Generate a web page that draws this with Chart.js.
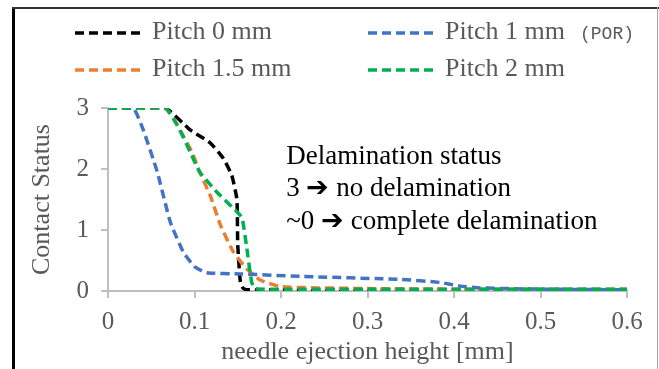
<!DOCTYPE html>
<html>
<head>
<meta charset="utf-8">
<script src="https://cdn.jsdelivr.net/npm/chart.js@4/dist/chart.umd.min.js"></script>
<style>
  html, body { margin: 0; padding: 0; background: #fff; }
  #wrap { width: 659px; height: 369px; position: relative; }
</style>
</head>
<body>
<div id="wrap"><canvas id="chart" width="659" height="369"></canvas></div>
<script>
var SERIF = '"Liberation Serif", "Times New Roman", serif';
var GRAY = "#595959";
var AXIS = "#bfbfbf";

// contact status vs needle ejection height, one pair of arrays per pitch
var seriesNames = ["Pitch 0 mm", "Pitch 1 mm", "Pitch 1.5 mm", "Pitch 2 mm"];
var seriesColors = ["#000000", "#4472c4", "#ed7d31", "#00b050"];

var pitch0X = [0, 0.066, 0.095, 0.118, 0.133, 0.143, 0.149, 0.150, 0.153, 0.156, 0.160, 0.2, 0.3, 0.4, 0.5, 0.6];
var pitch0Y = [3, 3, 2.64, 2.43, 2.18, 1.9, 1.5, 0.75, 0.15, 0.05, 0.02, 0.02, 0.02, 0.02, 0.02, 0.02];

var pitch1X = [0, 0.029, 0.040, 0.057, 0.072, 0.087, 0.100, 0.114, 0.153, 0.222, 0.338, 0.384, 0.407, 0.430, 0.5, 0.6];
var pitch1Y = [3, 3, 2.67, 1.95, 1.13, 0.64, 0.40, 0.30, 0.28, 0.24, 0.19, 0.14, 0.08, 0.05, 0.03, 0.02];

var pitch15X = [0, 0.066, 0.080, 0.097, 0.106, 0.118, 0.130, 0.145, 0.160, 0.176, 0.200, 0.3, 0.4, 0.5, 0.6];
var pitch15Y = [3, 3, 2.72, 2.28, 1.95, 1.57, 1.08, 0.64, 0.37, 0.18, 0.07, 0.04, 0.03, 0.03, 0.03];

var pitch2X = [0, 0.066, 0.080, 0.095, 0.106, 0.126, 0.149, 0.155, 0.160, 0.166, 0.170, 0.2, 0.3, 0.4, 0.5, 0.6];
var pitch2Y = [3, 3, 2.72, 2.28, 1.95, 1.62, 1.30, 1.2, 0.75, 0.15, 0.04, 0.03, 0.03, 0.03, 0.03, 0.03];

var xTicks = [0, 0.1, 0.2, 0.3, 0.4, 0.5, 0.6];
var yTicks = [0, 1, 2, 3];

var noteLines = ["Delamination status", "3 \u2794 no delamination", "~0 \u2794 complete delamination"];

function points(xs, ys) {
  return xs.map(function (x, i) { return { x: x, y: ys[i] }; });
}

var allX = [pitch0X, pitch1X, pitch15X, pitch2X];
var allY = [pitch0Y, pitch1Y, pitch15Y, pitch2Y];
var drawOrder = [3, 1, 2, 0]; // green on top, black underneath

var datasets = seriesNames.map(function (name, i) {
  return {
    label: name,
    data: points(allX[i], allY[i]),
    borderColor: seriesColors[i],
    backgroundColor: seriesColors[i],
    borderWidth: 3.5,
    borderDash: [9, 5],
    borderCapStyle: "butt",
    pointRadius: 0,
    tension: 0.15,
    fill: false,
    order: drawOrder[i],
  };
});

// legend in two rows, frame and annotation text
var extras = {
  id: "extras",
  afterDraw: function (chart) {
    var ctx = chart.ctx;
    var rows = [
      [0, 75, 33], [1, 368, 33],
      [2, 75, 70], [3, 368, 70],
    ];
    ctx.save();
    rows.forEach(function (r) {
      var ds = chart.data.datasets[r[0]];
      ctx.strokeStyle = ds.borderColor;
      ctx.lineWidth = ds.borderWidth;
      ctx.setLineDash(ds.borderDash);
      ctx.beginPath();
      ctx.moveTo(r[1], r[2]);
      ctx.lineTo(r[1] + 70, r[2]);
      ctx.stroke();
      ctx.setLineDash([]);
      ctx.fillStyle = GRAY;
      ctx.font = "26px " + SERIF;
      ctx.textBaseline = "middle";
      ctx.textAlign = "left";
      ctx.fillText(ds.label, r[1] + 77, r[2] - 1);
    });
    ctx.font = '18px "Liberation Mono", monospace';
    ctx.fillText("(POR)", 580, 34);

    // delamination note, anchored in data space
    var xs = chart.scales.x, ys = chart.scales.y;
    ctx.fillStyle = "#000";
    ctx.font = "27px " + SERIF;
    var nx = xs.getPixelForValue(0.206);
    var ny = [2.2, 1.68, 1.14];
    noteLines.forEach(function (t, i) {
      ctx.fillText(t, nx, ys.getPixelForValue(ny[i]));
    });

    // outer frame
    ctx.fillStyle = "#000";
    ctx.fillRect(12, 7, 3, 362);
    ctx.fillStyle = "#333";
    ctx.fillRect(12, 7, 647, 2);
    ctx.fillStyle = "#a6a6a6";
    ctx.fillRect(657, 7, 1, 362);
    ctx.restore();
  },
};

new Chart(document.getElementById("chart"), {
  type: "line",
  data: { datasets: datasets },
  plugins: [extras],
  options: {
    responsive: false,
    animation: false,
    layout: { padding: { top: 108, right: 32, bottom: 0, left: 0 } },
    plugins: { legend: { display: false }, tooltip: { enabled: false } },
    scales: {
      x: {
        type: "linear",
        min: 0,
        max: 0.6,
        afterFit: function (s) { s.height = 78; },
        afterBuildTicks: function (s) { s.ticks = xTicks.map(function (v) { return { value: v }; }); },
        border: { color: AXIS, width: 2 },
        grid: { drawOnChartArea: false, color: AXIS, lineWidth: 2, tickLength: 7 },
        ticks: { color: GRAY, padding: 9, font: { family: SERIF, size: 25 }, maxRotation: 0 },
        title: {
          display: true,
          text: "needle ejection height [mm]",
          color: GRAY,
          font: { family: SERIF, size: 26 },
          padding: { top: 0, bottom: 1 },
        },
      },
      y: {
        min: 0,
        max: 3,
        afterFit: function (s) { s.width = 108; },
        afterBuildTicks: function (s) { s.ticks = yTicks.map(function (v) { return { value: v }; }); },
        border: { color: AXIS, width: 2 },
        grid: { drawOnChartArea: false, color: AXIS, lineWidth: 2, tickLength: 7 },
        ticks: { color: GRAY, padding: 12, font: { family: SERIF, size: 25 } },
        title: {
          display: true,
          text: "Contact Status",
          color: GRAY,
          font: { family: SERIF, size: 26 },
          padding: { top: 27, bottom: 0 },
        },
      },
    },
  },
});
</script>
</body>
</html>
